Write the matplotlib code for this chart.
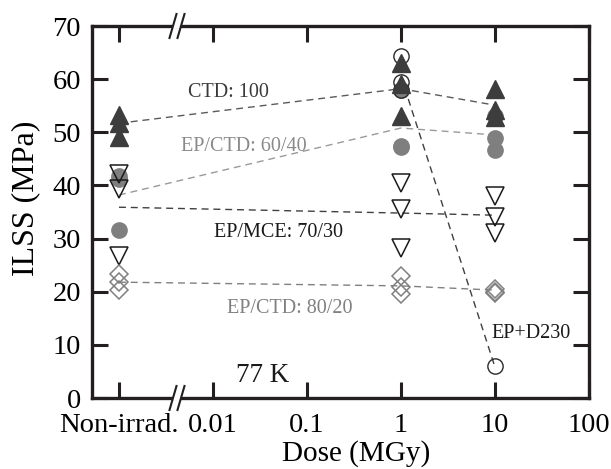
import matplotlib
matplotlib.use('Agg')
import matplotlib.pyplot as plt

plt.rcParams['font.family'] = ['Liberation Serif', 'DejaVu Serif']

# x positions: "Non-irrad." is drawn at 0.001 MGy on the log axis
dose_pos = [0.001, 1, 10]
tick_vals = [0.001, 0.01, 0.1, 1, 10, 100]
tick_labels = ['Non-irrad.', '0.01', '0.1', '1', '10', '100']
y_ticks = [0, 10, 20, 30, 40, 50, 60, 70]

# CTD: 100 (filled dark triangles)
ctd100 = [[53.3, 51.7, 49.1], [63.1, 59.0, 53.0], [58.1, 54.2, 52.8]]
ctd100_mean = [51.7, 58.2, 55.1]
# EP/CTD: 60/40 (filled gray circles)
epctd6040 = [[41.8, 41.2, 31.6], [58.0, 47.5, 47.3], [53.0, 49.0, 46.6]]
epctd6040_mean = [38.2, 50.8, 49.5]
# EP/MCE: 70/30 (open down triangles)
epmce = [[42.1, 39.3, 26.8], [40.4, 35.5, 28.3], [38.1, 34.0, 31.1]]
epmce_mean = [35.9, 34.8, 34.4]
# EP/CTD: 80/20 (open diamonds)
epctd8020 = [[23.3, 21.8, 20.4], [23.0, 20.8, 19.5], [20.6, 20.0, 19.8]]
epctd8020_mean = [21.8, 21.1, 20.3]
# EP+D230 (open circles), irradiated only
d230_pos = [1, 10]
d230 = [[64.3, 59.4, 58.0], [6.0]]
d230_mean = [60.5, 5.8]

fig = plt.figure(figsize=(6.11, 4.69), dpi=100)
ax = fig.add_axes([92/611, 1-398/469, 497/611, 372/469])
ax.set_xscale('log')
ax.set_xlim(10**-3.287, 100)
ax.set_ylim(0, 70)

dash = (0, (5, 3.5))
ax.plot(dose_pos, ctd100_mean, linestyle=dash, color='#5a5a5a', lw=1.0, zorder=1)
ax.plot(dose_pos, epctd6040_mean, linestyle=dash, color='#9a9a9a', lw=1.0, zorder=1)
ax.plot(dose_pos, epmce_mean, linestyle=dash, color='#404040', lw=1.0, zorder=1)
ax.plot(dose_pos, epctd8020_mean, linestyle=dash, color='#808080', lw=1.0, zorder=1)
ax.plot(d230_pos, d230_mean, linestyle=dash, color='#404040', lw=1.0, zorder=1)

def scatter(xs, groups, **kw):
    for x, vals in zip(xs, groups):
        ax.plot([x]*len(vals), vals, linestyle='none', **kw)

scatter(dose_pos, epctd6040, marker='o', ms=11, mfc='#7f7f7f', mec='#7f7f7f', zorder=3)
scatter(d230_pos, d230, marker='o', ms=11, mfc='none', mec='#2a2a2a', mew=1.0, zorder=3)
scatter(dose_pos, ctd100, marker='^', ms=12.5, mfc='#3d3d3d', mec='#3d3d3d', zorder=4)
scatter(dose_pos, epmce, marker='v', ms=12.5, mfc='none', mec='#1a1a1a', mew=1.1, zorder=5)
scatter(dose_pos, epctd8020, marker='D', ms=9.5, mfc='none', mec='#808080', mew=1.1, zorder=5)

ax.set_xticks(tick_vals)
ax.set_xticklabels(tick_labels)
ax.xaxis.set_minor_locator(matplotlib.ticker.NullLocator())
ax.set_yticks(y_ticks)
ax.tick_params(direction='in', length=11.5, width=2.2, labelsize=20.5,
               top=True, right=True, pad=8, color='#231f20')
ax.tick_params(axis='x', pad=11)
for s in ax.spines.values():
    s.set_linewidth(2.4)
    s.set_color('#231f20')

ax.set_xlabel('Dose (MGy)', fontsize=21)
ax.xaxis.set_label_coords(0.532, -0.113)
ax.set_ylabel('ILSS (MPa)', fontsize=23)
ax.yaxis.set_label_coords(-0.1046, 0.5376)

ax.text(0.2746, 0.809, 'CTD: 100', transform=ax.transAxes, ha='center', va='baseline',
        fontsize=14.5, color='#3a3a3a')
ax.text(0.306, 0.664, 'EP/CTD: 60/40', transform=ax.transAxes, ha='center', va='baseline',
        fontsize=14.5, color='#8a8a8a')
ax.text(0.375, 0.4328, 'EP/MCE: 70/30', transform=ax.transAxes, ha='center', va='baseline',
        fontsize=14.5, color='#1a1a1a')
ax.text(0.398, 0.2285, 'EP/CTD: 80/20', transform=ax.transAxes, ha='center', va='baseline',
        fontsize=14.5, color='#808080')
ax.text(0.344, 0.043, '77 K', transform=ax.transAxes, ha='center', va='baseline',
        fontsize=19.5, color='#1a1a1a')
ax.text(0.884, 0.161, 'EP+D230', transform=ax.transAxes, ha='center', va='baseline',
        fontsize=14.5, color='#1a1a1a')

# axis break marks on top and bottom spines
bx = (177 - 92) / 497
gx = 4 / 497
sx = 3.5 / 497
sy = 12 / 372
for yb in (0, 1):
    ax.plot([bx - gx, bx + gx], [yb, yb], transform=ax.transAxes, color='white',
            lw=4, clip_on=False, zorder=10, solid_capstyle='butt')
    for xc in (bx - gx, bx + gx):
        ax.plot([xc - sx, xc + sx], [yb - sy, yb + sy], transform=ax.transAxes,
                color='#231f20', lw=1.5, clip_on=False, zorder=11)

fig.savefig('out.png', dpi=100)
